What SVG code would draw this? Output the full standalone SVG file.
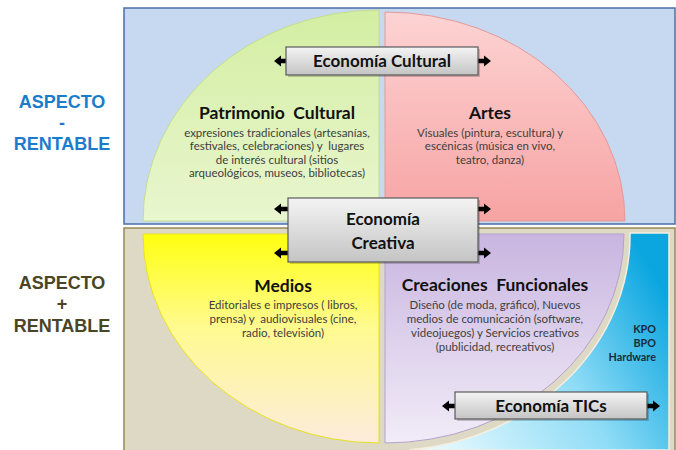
<svg xmlns="http://www.w3.org/2000/svg" width="676" height="450" viewBox="0 0 676 450">
<defs>
<style>
.side{font-family:"Liberation Sans",Arial,sans-serif;font-weight:bold;font-size:18px;text-anchor:middle}
.t{font-family:Lato,"Open Sans",sans-serif;font-weight:bold;font-size:17.5px;fill:#111111;text-anchor:middle;white-space:pre}
.b{font-family:Lato,"Open Sans",sans-serif;font-size:11.5px;fill:#404040;text-anchor:middle;white-space:pre}
.k{font-family:Lato,"Open Sans",sans-serif;font-weight:bold;font-size:10.8px;fill:#1a2a3a;text-anchor:end}
.box{fill:url(#gBox);stroke:#5a5a5a;stroke-width:1.2}
.sh{fill:#000;opacity:0.18}
.bt{font-family:Lato,"Open Sans",sans-serif;font-weight:bold;font-size:17px;fill:#111111;text-anchor:middle}
.arr{fill:#000}
</style>
<linearGradient id="gBox" x1="0" y1="0" x2="0" y2="1"><stop offset="0" stop-color="#f4f4f4"/><stop offset="1" stop-color="#c4c4c4"/></linearGradient>
<linearGradient id="gGreen" x1="0" y1="0" x2="0" y2="1"><stop offset="0" stop-color="#d3eea2"/><stop offset="1" stop-color="#e9f6cf"/></linearGradient>
<linearGradient id="gPink" x1="0" y1="0" x2="0" y2="1"><stop offset="0" stop-color="#fdd3d3"/><stop offset="1" stop-color="#f7a3a3"/></linearGradient>
<linearGradient id="gYellow" x1="0" y1="0" x2="0" y2="1"><stop offset="0" stop-color="#ffff10"/><stop offset="0.45" stop-color="#fffa90"/><stop offset="1" stop-color="#fcebdc"/></linearGradient>
<linearGradient id="gPurple" x1="0" y1="0" x2="0" y2="1"><stop offset="0" stop-color="#c9b5e0"/><stop offset="1" stop-color="#f1ecf8"/></linearGradient>
<linearGradient id="gBlue" gradientUnits="userSpaceOnUse" x1="430" y1="440" x2="669" y2="300"><stop offset="0" stop-color="#e6f9fe"/><stop offset="0.55" stop-color="#8fdcf6"/><stop offset="1" stop-color="#0ba6e0"/></linearGradient>
<path id="aR" d="M0,0 L-7,-5.5 L-7,-2.2 L-14,-2.2 L-14,2.2 L-7,2.2 L-7,5.5 Z"/>
<path id="aL" d="M0,0 L7,-5.5 L7,-2.2 L14,-2.2 L14,2.2 L7,2.2 L7,5.5 Z"/>
</defs>
<rect width="676" height="450" fill="#ffffff"/>

<g id="panel-menos">
<rect x="124" y="8" width="551" height="216" fill="#c6d9f0" stroke="#4a6fa5" stroke-width="1.5"/>
</g>
<g id="panel-mas">
<rect x="124" y="228" width="551" height="226" fill="#ddd9c4" stroke="#948a54" stroke-width="1.5"/>
</g>

<g id="label-menos">
<text class="side" fill="#1c7ccc" x="62" y="108">ASPECTO</text>
<text class="side" fill="#1c7ccc" x="62" y="129">-</text>
<text class="side" fill="#1c7ccc" x="62" y="150">RENTABLE</text>
</g>
<g id="label-mas">
<text class="side" fill="#4b4526" x="62" y="289">ASPECTO</text>
<text class="side" fill="#4b4526" x="62" y="310">+</text>
<text class="side" fill="#4b4526" x="62" y="332">RENTABLE</text>
</g>

<g id="tics-region">
<path d="M630,233 L669,233 L669,450 L410,450 A245 216 0 0 0 630,233 Z" fill="url(#gBlue)" stroke="#f2efe2" stroke-width="1.5"/>
<text class="k" x="656" y="333">KPO</text>
<text class="k" x="656" y="347">BPO</text>
<text class="k" x="656" y="361">Hardware</text>
</g>

<g id="patrimonio">
<path d="M379,221 L143,221 A236 211 0 0 1 379,10 Z" fill="url(#gGreen)" stroke="#c2dc92" stroke-width="1"/>
<text class="t" x="277" y="119" xml:space="preserve">Patrimonio  Cultural</text>
<text class="b" x="277" y="137">expresiones tradicionales (artesanías,</text>
<text class="b" x="277" y="150" xml:space="preserve">festivales, celebraciones) y  lugares</text>
<text class="b" x="277" y="163.5">de interés cultural (sitios</text>
<text class="b" x="277" y="177">arqueológicos, museos, bibliotecas)</text>
</g>

<g id="artes">
<path d="M385,221 L385,12 A240 209 0 0 1 625,221 Z" fill="url(#gPink)" stroke="#e29a9a" stroke-width="1"/>
<text class="t" x="490" y="119">Artes</text>
<text class="b" x="490" y="137">Visuales (pintura, escultura) y</text>
<text class="b" x="490" y="150">escénicas (música en vivo,</text>
<text class="b" x="490" y="164">teatro, danza)</text>
</g>

<g id="medios">
<path d="M379,234 L379,443 A236 209 0 0 1 143,234 Z" fill="url(#gYellow)" stroke="#e6e020" stroke-width="1"/>
<text class="t" x="283" y="292">Medios</text>
<text class="b" x="283" y="308.5">Editoriales e impresos ( libros,</text>
<text class="b" x="283" y="323" xml:space="preserve">prensa) y  audiovisuales (cine,</text>
<text class="b" x="283" y="337">radio, televisión)</text>
</g>

<g id="creaciones">
<path d="M385,234 L624,234 A239 209 0 0 1 385,443 Z" fill="url(#gPurple)" stroke="#b3a3cc" stroke-width="1"/>
<text class="t" x="495" y="291" xml:space="preserve">Creaciones  Funcionales</text>
<text class="b" x="495" y="308.5">Diseño (de moda, gráfico), Nuevos</text>
<text class="b" x="495" y="322.5">medios de comunicación (software,</text>
<text class="b" x="495" y="336.5">videojuegos) y Servicios creativos</text>
<text class="b" x="495" y="351">(publicidad, recreativos)</text>
</g>

<g id="connectors">
<use href="#aL" x="274" y="61"/>
<use href="#aR" x="491" y="61"/>
<use href="#aL" x="274" y="209"/>
<use href="#aR" x="491" y="209"/>
<use href="#aL" x="274" y="253"/>
<use href="#aR" x="491" y="253"/>
<use href="#aL" x="442" y="406"/>
<use href="#aR" x="660" y="406"/>
</g>

<g id="economia-cultural">
<rect class="sh" x="288" y="49" width="192" height="28"/>
<rect class="box" x="286" y="47" width="192" height="28"/>
<text class="bt" x="382" y="67">Economía Cultural</text>
</g>

<g id="economia-creativa">
<rect class="sh" x="290" y="200" width="190" height="64"/>
<rect class="box" x="288" y="198" width="190" height="64"/>
<text class="bt" x="383" y="225" font-size="19">Economía</text>
<text class="bt" x="383" y="249" font-size="19">Creativa</text>
</g>

<g id="economia-tics">
<rect class="sh" x="457" y="394" width="192" height="27"/>
<rect class="box" x="455" y="392" width="192" height="27"/>
<text class="bt" x="551" y="412">Economía TICs</text>
</g>
</svg>
